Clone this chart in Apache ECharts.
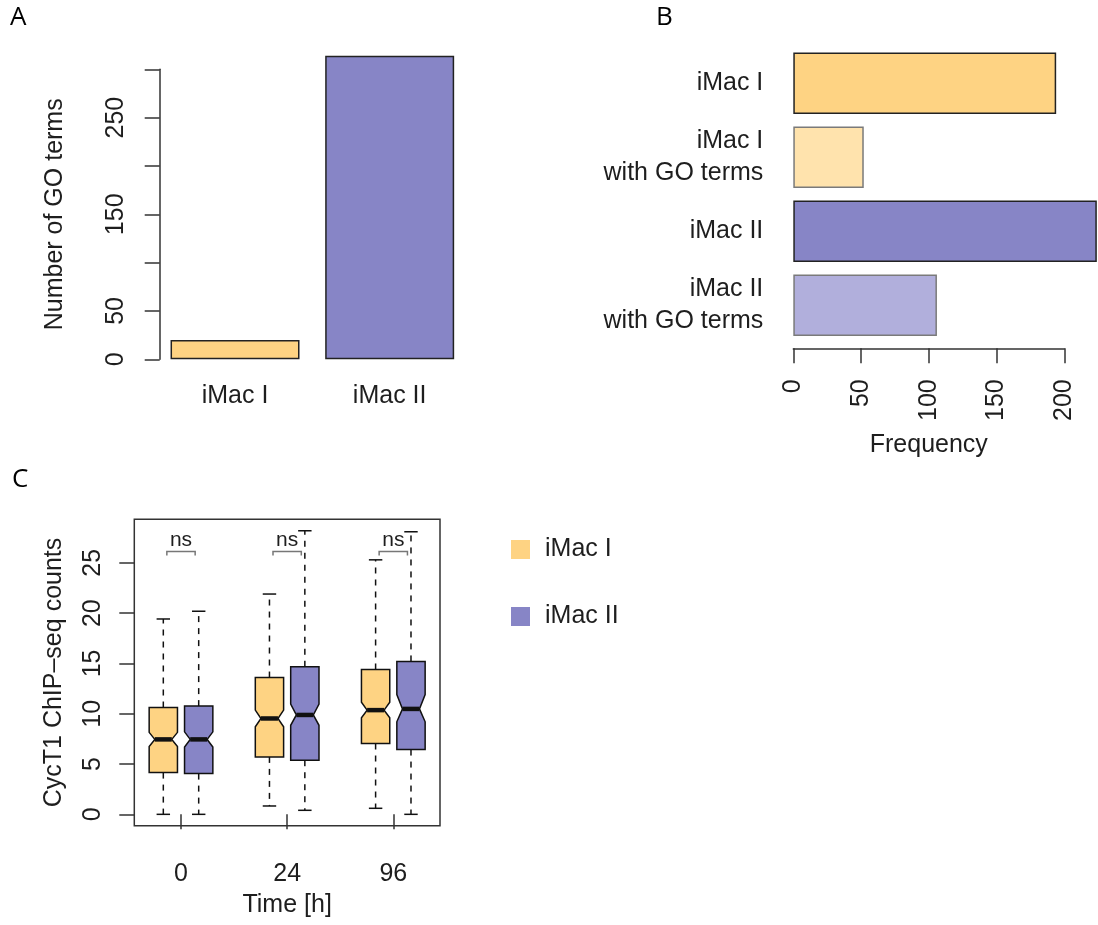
<!DOCTYPE html>
<html><head><meta charset="utf-8">
<script src="https://cdn.jsdelivr.net/npm/echarts@6/dist/echarts.min.js"></script>
<style>html,body{margin:0;padding:0;background:#fff}#c{width:1098px;height:925px}</style>
</head><body><div id="c"></div>
<script>
// ---------- Panel A data ----------
const goCategories = ['iMac I', 'iMac II'];
const goTermCounts = [20, 314];
const goTickLabels = [0, 50, 150, 250];

// ---------- Panel B data ----------
const freqCategories = ['iMac I', 'iMac I\nwith GO terms', 'iMac II', 'iMac II\nwith GO terms'];
const freqValues = [194, 52, 224, 106];

// ---------- Panel C data ----------
const timeLabels = ['0', '24', '96'];
const groupNames = ['iMac I', 'iMac II'];
// each box: [whiskerLow, q1, notchLow, median, notchHigh, q3, whiskerHigh]
const imac1Boxes = [
  [0.0, 4.15, 6.75, 7.45, 8.15, 10.62, 19.42],
  [0.83, 5.71, 8.70, 9.53, 10.36, 13.60, 21.90],
  [0.6, 7.04, 9.60, 10.36, 11.15, 14.40, 25.30]
];
const imac2Boxes = [
  [0.0, 4.05, 6.70, 7.45, 8.20, 10.76, 20.19],
  [0.4, 5.38, 8.85, 9.88, 10.95, 14.67, 28.19],
  [0.0, 6.44, 9.20, 10.48, 11.90, 15.20, 28.09]
];
const countTicks = [0, 5, 10, 15, 20, 25];
const sigLabels = ['ns', 'ns', 'ns'];
const sigLevel = 26.13;

// ---------- styles ----------
const FONT = 'Liberation Sans, Arial, Helvetica, sans-serif';
const TXT = '#1e1e1e';
const AX = '#333';
const orange = '#FED383', orangeLight = '#FFE3AD', purple = '#8785C6', purpleLight = '#B1AFDC';
const goColors = [orange, purple];
const freqColors = [orange, orangeLight, purple, purpleLight];
const freqBorders = ['#222', '#7a7a7a', '#222', '#7a7a7a'];

const chart = echarts.init(document.getElementById('c'), null, {renderer: 'canvas'});

function boxRender(params, api) {
  const pos = api.value(0);
  const wlo = api.value(1), q1 = api.value(2), nlo = api.value(3), med = api.value(4),
        nhi = api.value(5), q3 = api.value(6), whi = api.value(7);
  const hw = 0.4, nf = 0.6, cap = 0.19;
  const P = (x, y) => api.coord([x, y]);
  const color = api.visual('color');
  const poly = [P(pos - hw, q1), P(pos - hw, nlo), P(pos - hw * nf, med), P(pos - hw, nhi), P(pos - hw, q3),
                P(pos + hw, q3), P(pos + hw, nhi), P(pos + hw * nf, med), P(pos + hw, nlo), P(pos + hw, q1)];
  const ln = (a, b, extra) => ({type: 'line', shape: {x1: a[0], y1: a[1], x2: b[0], y2: b[1]},
    style: Object.assign({stroke: '#111', lineWidth: 1.5}, extra || {})});
  return {type: 'group', children: [
    ln(P(pos, q3), P(pos, whi), {lineDash: [6, 6]}),
    ln(P(pos, q1), P(pos, wlo), {lineDash: [6, 6]}),
    ln(P(pos - cap, whi), P(pos + cap, whi)),
    ln(P(pos - cap, wlo), P(pos + cap, wlo)),
    {type: 'polygon', shape: {points: poly}, style: {fill: color, stroke: '#111', lineWidth: 1.5}},
    ln(P(pos - hw * nf, med), P(pos + hw * nf, med), {lineWidth: 4.5})
  ]};
}

function sigRender(params, api) {
  const g = api.value(0);
  const x1 = 3 * g + 1.1, x2 = 3 * g + 1.9;
  const y = sigLevel, yl = sigLevel - 0.4;
  const P = (x, yy) => api.coord([x, yy]);
  const a = P(x1, yl), b = P(x1, y), c = P(x2, y), d = P(x2, yl);
  const t = P((x1 + x2) / 2, sigLevel + 1.1);
  return {type: 'group', children: [
    {type: 'polyline', shape: {points: [a, b, c, d]}, style: {fill: null, stroke: '#777', lineWidth: 1.5}},
    {type: 'text', x: t[0], y: t[1], style: {text: sigLabels[g], x: 0, y: 0, align: 'center', verticalAlign: 'middle',
      font: '21px ' + FONT, fill: TXT}}
  ]};
}

const panelTitle = {fontFamily: 'Open Sans', fontSize: 26, fontWeight: 'normal', color: '#000'};
const option = {
  animation: false,
  backgroundColor: '#fff',
  textStyle: {fontFamily: FONT},
  title: [
    {text: 'A', left: 10, top: 5, padding: 0, textStyle: panelTitle},
    {text: 'B', left: 656, top: 5, padding: 0, textStyle: panelTitle},
    {text: 'C', left: 12, top: 467, padding: 0, textStyle: panelTitle}
  ],
  legend: {
    data: groupNames, orient: 'vertical', left: 506, top: 532, itemWidth: 19, itemHeight: 19, itemGap: 42,
    icon: 'rect', textStyle: {fontSize: 25, color: TXT, fontFamily: FONT, padding: [0, 0, 0, 10]}
  },
  grid: [
    {left: 157.7, top: 69.3, width: 309.3, height: 290},
    {left: 793.3, top: 46.3, width: 271, height: 296},
    {left: 134.3, top: 519.3, width: 305.7, height: 306.4, show: true, borderColor: AX, borderWidth: 1.5, backgroundColor: 'transparent'}
  ],
  xAxis: [
    {gridIndex: 0, type: 'category', data: goCategories, axisLine: {show: false}, axisTick: {show: false},
      axisLabel: {margin: 24, fontSize: 25, color: TXT, fontFamily: FONT}},
    {gridIndex: 1, type: 'value', min: 0, max: 200, interval: 50, offset: 6, splitLine: {show: false},
      axisLine: {show: true, lineStyle: {color: AX, width: 1.5}},
      axisTick: {show: true, length: 15, lineStyle: {color: AX, width: 1.5}},
      axisLabel: {rotate: 90, margin: 31, fontSize: 25, color: TXT, fontFamily: FONT},
      name: 'Frequency', nameLocation: 'middle', nameGap: 84,
      nameTextStyle: {fontSize: 25, color: TXT, fontFamily: FONT}},
    {gridIndex: 2, type: 'value', min: 0.18, max: 8.82, splitLine: {show: false},
      axisLine: {show: false},
      axisTick: {show: true, length: 15, customValues: [1.5, 4.5, 7.5], lineStyle: {color: AX, width: 1.5}},
      axisLabel: {customValues: [1.5, 4.5, 7.5], margin: 36, fontSize: 25, color: TXT, fontFamily: FONT,
        formatter: v => timeLabels[Math.round((v - 1.5) / 3)]},
      name: 'Time [h]', nameLocation: 'middle', nameGap: 67,
      nameTextStyle: {fontSize: 25, color: TXT, fontFamily: FONT}}
  ],
  yAxis: [
    {gridIndex: 0, type: 'value', min: 0, max: 300, interval: 50, offset: -2, splitLine: {show: false},
      axisLine: {show: true, lineStyle: {color: AX, width: 1.5}},
      axisTick: {show: true, length: 15, lineStyle: {color: AX, width: 1.5}},
      axisLabel: {rotate: 90, margin: 31, fontSize: 25, color: TXT, fontFamily: FONT, customValues: goTickLabels},
      name: 'Number of GO terms', nameLocation: 'middle', nameGap: 92, nameRotate: 90,
      nameTextStyle: {fontSize: 25, color: TXT, fontFamily: FONT}},
    {gridIndex: 1, type: 'category', data: freqCategories, inverse: true,
      axisLine: {show: false}, axisTick: {show: false},
      axisLabel: {margin: 30, fontSize: 25, lineHeight: 32, color: TXT, fontFamily: FONT, align: 'right'}},
    {gridIndex: 2, type: 'value', min: -1.13, max: 29.33, splitLine: {show: false},
      axisLine: {show: false},
      axisTick: {show: true, length: 15, customValues: countTicks, lineStyle: {color: AX, width: 1.5}},
      axisLabel: {rotate: 90, margin: 29, fontSize: 25, color: TXT, fontFamily: FONT, customValues: countTicks},
      name: 'CycT1 ChIP–seq counts', nameLocation: 'middle', nameGap: 68, nameRotate: 90,
      nameTextStyle: {fontSize: 25, color: TXT, fontFamily: FONT}}
  ],
  series: [
    {name: 'GO terms', type: 'bar', xAxisIndex: 0, yAxisIndex: 0, clip: false, barCategoryGap: '16.6%',
      data: goTermCounts.map((v, i) => ({value: v, itemStyle: {color: goColors[i], borderColor: '#222', borderWidth: 1.5}}))},
    {name: 'Frequency', type: 'bar', xAxisIndex: 1, yAxisIndex: 1, clip: false, barCategoryGap: '16.8%',
      data: freqValues.map((v, i) => ({value: v, itemStyle: {color: freqColors[i], borderColor: freqBorders[i], borderWidth: 1.5}}))},
    {name: groupNames[0], type: 'custom', xAxisIndex: 2, yAxisIndex: 2, itemStyle: {color: orange},
      renderItem: boxRender, encode: {x: 0, y: [1, 2, 3, 4, 5, 6, 7]},
      data: imac1Boxes.map((b, g) => [3 * g + 1].concat(b))},
    {name: groupNames[1], type: 'custom', xAxisIndex: 2, yAxisIndex: 2, itemStyle: {color: purple},
      renderItem: boxRender, encode: {x: 0, y: [1, 2, 3, 4, 5, 6, 7]},
      data: imac2Boxes.map((b, g) => [3 * g + 2].concat(b))},
    {name: 'sig', type: 'custom', xAxisIndex: 2, yAxisIndex: 2, renderItem: sigRender, encode: {x: 0, y: 1},
      data: sigLabels.map((s, g) => [g, sigLevel])}
  ]
};
chart.setOption(option);
</script>
</body></html>
